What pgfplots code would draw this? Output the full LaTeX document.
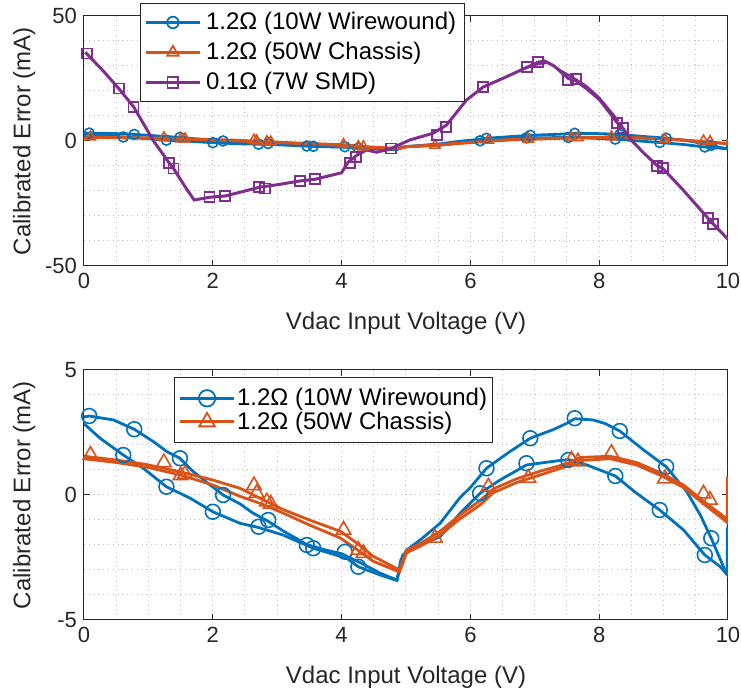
\documentclass[border=0pt]{standalone}
\usepackage{pgfplots}
\pgfplotsset{compat=1.18}
\usepackage{pgfplotstable}
\usepackage{fontspec}
\setmainfont{Liberation Sans}
\usetikzlibrary{calc}
\definecolor{mblue}{RGB}{0,114,189}
\definecolor{morange}{RGB}{217,83,25}
\definecolor{mpurple}{RGB}{126,47,142}
\definecolor{axgray}{RGB}{38,38,38}

\pgfplotstableread{
x y
0 3.12
0.08 3.16
0.46 3.0
0.78 2.63
1.08 2.13
1.29 1.73
1.49 1.47
1.70 0.93
1.95 0.42
2.16 0.0
2.42 -0.35
2.62 -0.72
2.86 -1.05
3.10 -1.45
3.46 -1.98
3.75 -2.2
4.0 -2.35
4.3 -2.72
4.6 -3.13
4.86 -3.40
4.92 -2.6
5.01 -2.2
5.22 -1.8
5.53 -1.13
5.84 -0.1
6.0 0.3
6.25 1.07
6.61 1.73
6.93 2.27
7.29 2.62
7.5 2.87
7.62 3.05
7.91 3.0
8.1 2.85
8.32 2.56
8.69 1.8
9.04 1.13
9.36 0.13
9.57 -0.8
9.74 -1.73
9.93 -2.87
9.99 -3.2
}\bluea

\pgfplotstableread{
x y
0 2.85
0.25 2.27
0.61 1.6
0.92 1.07
1.28 0.33
1.65 -0.13
2.0 -0.67
2.42 -1.13
2.71 -1.3
3.09 -1.6
3.56 -2.13
4.08 -2.53
4.26 -2.87
4.6 -3.2
4.86 -3.42
4.95 -2.4
5.22 -2.0
5.53 -1.67
5.84 -0.73
6.15 0.07
6.46 0.6
6.87 1.2
7.24 1.33
7.52 1.42
7.81 1.2
8.25 0.76
8.58 0.07
8.94 -0.6
9.31 -1.4
9.64 -2.4
9.88 -2.87
9.99 -3.2
9.99 -1.3
}\blueb

\pgfplotstableread{
x y
0.08 3.16
0.78 2.63
1.49 1.47
2.16 0.0
2.86 -1.0
3.46 -2.0
4.05 -2.27
0.61 1.6
1.28 0.33
2.0 -0.67
2.71 -1.27
3.56 -2.13
4.26 -2.87
6.25 1.07
6.93 2.27
7.62 3.07
8.32 2.56
9.04 1.13
9.74 -1.73
6.15 0.07
6.87 1.27
7.52 1.4
8.25 0.76
8.94 -0.6
9.64 -2.4
}\bluemk

\pgfplotstableread{
x y
0 1.55
0.5 1.4
0.97 1.22
1.49 0.93
2.0 0.6
2.42 0.27
2.75 -0.15
3.09 -0.58
3.5 -1.0
3.98 -1.45
4.25 -1.95
4.49 -2.45
4.9 -3.0
5.01 -2.2
5.22 -1.95
5.53 -1.45
5.84 -0.8
6.15 -0.22
6.36 0.25
6.72 0.65
7.08 0.95
7.5 1.25
7.7 1.5
8.17 1.55
8.58 1.3
8.94 0.9
9.31 0.4
9.62 -0.25
9.98 -0.95
}\orangea

\pgfplotstableread{
x y
0 1.45
0.5 1.3
1.0 1.1
1.5 0.8
2.0 0.4
2.42 -0.05
2.75 -0.35
3.09 -0.72
3.5 -1.2
3.98 -1.72
4.25 -2.2
4.49 -2.65
4.9 -3.08
5.01 -2.3
5.22 -2.05
5.53 -1.6
5.84 -0.95
6.15 -0.4
6.36 0.1
6.72 0.5
7.08 0.8
7.5 1.15
7.7 1.38
8.17 1.45
8.58 1.2
8.94 0.8
9.31 0.3
9.62 -0.35
9.99 -1.1
9.99 0.73
}\orangeb

\pgfplotstableread{
x y
0.1 1.6
1.24 1.3
1.5 0.78
1.57 0.84
2.64 0.38
2.68 0.07
2.84 -0.27
2.9 -0.36
4.03 -1.4
4.26 -2.2
4.34 -2.33
5.45 -1.72
6.28 0.33
6.9 0.68
7.57 1.4
7.67 1.33
8.19 1.67
9.02 0.65
9.62 0.05
9.72 -0.2
}\orangemk

\pgfplotstableread{
x y
0.02 35.5
0.3 28
0.54 21
0.77 13.7
1.08 0
1.32 -8.7
1.39 -11
1.55 -17.5
1.71 -23.6
1.95 -22.5
2.19 -22
2.5 -20
2.72 -18.5
3.0 -17.5
3.35 -16
3.59 -15.3
4.0 -12.7
4.1 -8.5
4.24 -5.6
4.39 -3.6
4.54 -4.5
4.75 -3.2
5.06 0.4
5.42 3.1
5.63 6.4
5.94 16.4
6.2 21.6
6.5 25
6.88 29.5
7.05 31.5
7.15 32
7.3 30
7.52 25
7.64 24
7.8 21
8.01 16.4
8.28 7.3
8.37 5.1
8.51 0
8.7 -5
8.9 -9.9
8.99 -11
9.3 -19.5
9.69 -30.9
9.77 -33.2
10 -39.3
}\purplea

\pgfplotstableread{
x y
6.8 28.6
7.05 30.8
7.22 31.3
7.4 28.2
7.6 25.3
7.8 22
8.0 17.4
8.3 8.0
}\purpleb

\pgfplotstableread{
x y
0.05 35
0.54 21
0.77 13.7
1.32 -8.7
1.39 -11
1.95 -22.5
2.19 -22
2.72 -18.3
2.81 -19
3.35 -16
3.59 -15.3
4.13 -8.9
4.22 -6.5
4.77 -3
5.48 2.4
5.62 5.7
6.2 21.6
6.88 29.7
7.05 31.7
7.52 24.4
7.64 24.8
8.28 7.3
8.37 5.1
8.9 -9.9
8.99 -10.9
9.69 -30.9
9.77 -33.2
}\purplemk

\pgfplotsset{
 mystyle/.style={
  scale only axis, width=322pt, height=125pt,
  xmin=0, xmax=10, xtick={0,2,4,6,8,10}, xticklabels={0,2,4,6,8,10},
  minor x tick num=3,
  grid=both,
  major grid style={gray!50, dotted, line width=0.5pt},
  minor grid style={gray!50, dotted, line width=0.5pt},
  tick align=inside, major tick length=3.2pt, minor tick length=0pt,
  axis line style={axgray, line width=0.5pt},
  tick style={axgray, line width=0.5pt},
  ticklabel style={font=\fontsize{11}{13}\selectfont, text=axgray},
  xlabel={Vdac Input Voltage (V)},
  ylabel={Calibrated Error (mA)},
  every axis x label/.style={at={(axis description cs:0.5,-0.228)}, anchor=center, font=\fontsize{12}{14}\selectfont, text=axgray},
  every axis y label/.style={at={(axis description cs:-0.093,0.5)}, rotate=90, anchor=center, font=\fontsize{12}{14}\selectfont, text=axgray},
  legend cell align=left,
  legend image code/.code={\draw[mark repeat=2,mark phase=2,#1] plot coordinates {(0pt,0pt)(13.5pt,0pt)(27pt,0pt)};},
 }
}

\begin{document}
\begin{tikzpicture}
\begin{axis}[mystyle, name=top,
  ymin=-50, ymax=50, ytick={-50,0,50}, yticklabels={-50,0,50},
  minor y tick num=4,
  legend style={at={(0.087,1.052)}, anchor=north west, draw=axgray, line width=0.5pt,
    font=\fontsize{12}{14}\selectfont, inner xsep=2pt, inner ysep=2pt,
    nodes={inner sep=2.4pt}, fill=white},
]
\addlegendimage{mblue, line width=1.4pt, mark=o, mark size=2.9pt, mark options={solid, line width=0.9pt}}
\addlegendentry{1.2Ω (10W Wirewound)}
\addlegendimage{morange, line width=1.4pt, mark=triangle, mark size=3.3pt, mark options={solid, line width=0.9pt}}
\addlegendentry{1.2Ω (50W Chassis)}
\addlegendimage{mpurple, line width=1.4pt, mark=square, mark size=2.7pt, mark options={solid, line width=0.9pt}}
\addlegendentry{0.1Ω (7W SMD)}
\addplot[forget plot, mblue, line width=1.4pt] table {\bluea};
\addplot[forget plot, mblue, line width=1.4pt] table {\blueb};
\addplot[forget plot, only marks, mblue, mark=o, mark size=2.5pt, mark options={line width=0.8pt}] table {\bluemk};
\addplot[forget plot, morange, line width=1.4pt] table {\orangea};
\addplot[forget plot, morange, line width=1.4pt] table {\orangeb};
\addplot[forget plot, only marks, morange, mark=triangle, mark size=2.9pt, mark options={line width=0.8pt}] table {\orangemk};
\addplot[forget plot, mpurple, line width=1.5pt] table {\purplea};
\addplot[forget plot, mpurple, line width=1.1pt] table {\purpleb};
\addplot[forget plot, only marks, mpurple, mark=square, mark size=2.5pt, mark options={line width=0.8pt}] table {\purplemk};
\end{axis}

\begin{axis}[mystyle, name=bot,
  at={($(top.north west)+(0,-177pt)$)}, anchor=north west,
  ymin=-5, ymax=5, ytick={-5,0,5}, yticklabels={-5,0,5},
  minor y tick num=4,
  legend style={at={(0.14,0.972)}, anchor=north west, draw=axgray, line width=0.5pt,
    font=\fontsize{12}{14}\selectfont, inner xsep=2pt, inner ysep=4.5pt,
    nodes={inner sep=0.8pt}, fill=white},
]
\addlegendimage{mblue, line width=1.4pt, mark=o, mark size=4.1pt, mark options={solid, line width=0.9pt}}
\addlegendentry{1.2Ω (10W Wirewound)}
\addlegendimage{morange, line width=1.4pt, mark=triangle, mark size=4.5pt, mark options={solid, line width=0.9pt}}
\addlegendentry{1.2Ω (50W Chassis)}
\addplot[forget plot, mblue, line width=1.4pt] table {\bluea};
\addplot[forget plot, mblue, line width=1.4pt] table {\blueb};
\addplot[forget plot, only marks, mblue, mark=o, mark size=3.7pt, mark options={line width=0.8pt}] table {\bluemk};
\addplot[forget plot, morange, line width=1.4pt] table {\orangea};
\addplot[forget plot, morange, line width=1.4pt] table {\orangeb};
\addplot[forget plot, only marks, morange, mark=triangle, mark size=4.2pt, mark options={line width=0.8pt}] table {\orangemk};
\end{axis}
\pgfresetboundingbox
\path[use as bounding box] ($(top.north west)+(-42pt,8pt)$) rectangle ++(370.5pt,-347.5pt);
\end{tikzpicture}
\end{document}
